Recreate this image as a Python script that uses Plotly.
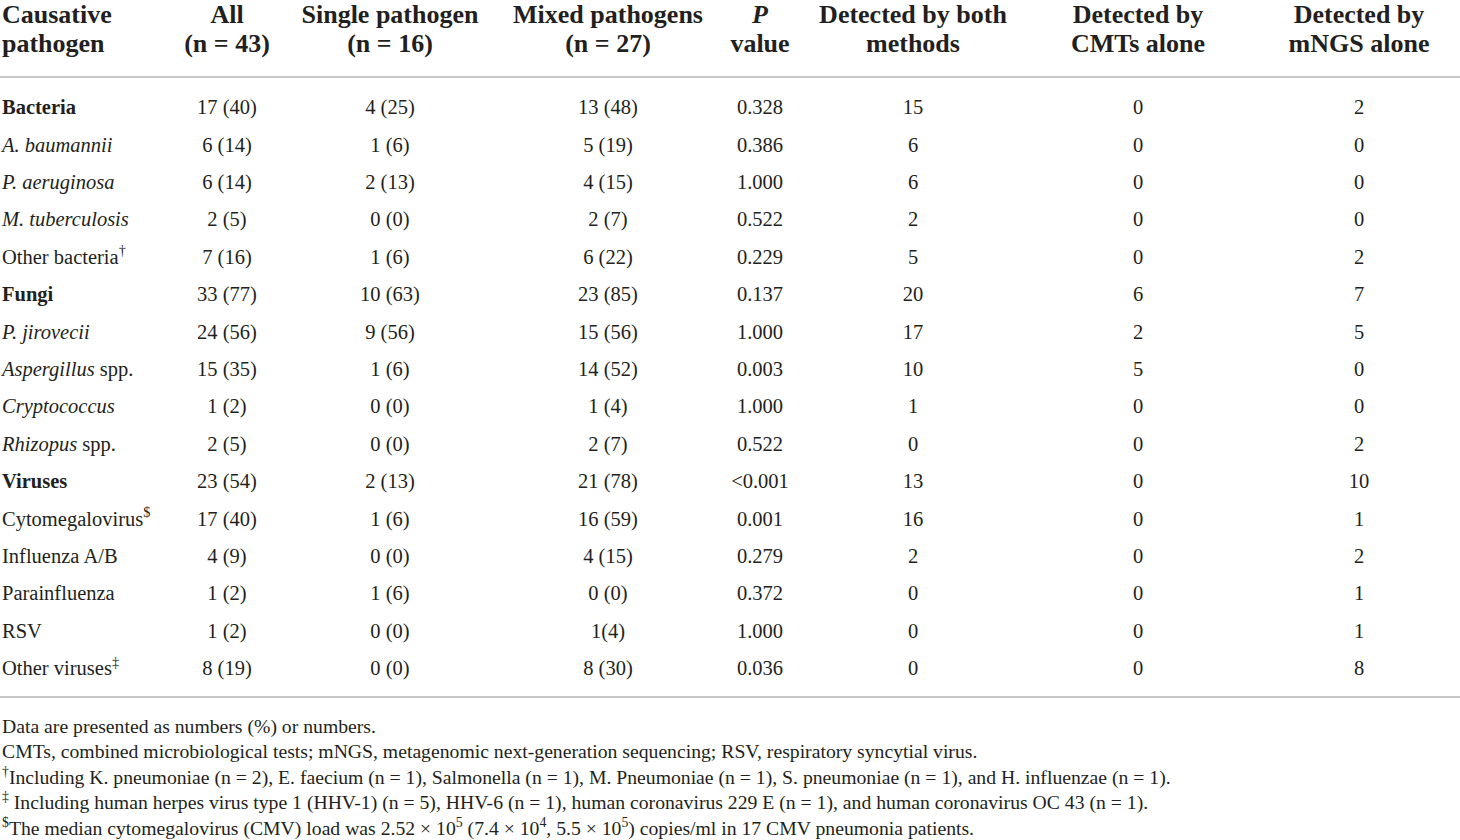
import plotly.graph_objects as go

# table data
pathogens = ["Bacteria", "A. baumannii", "P. aeruginosa", "M. tuberculosis", "Other bacteria",
             "Fungi", "P. jirovecii", "Aspergillus spp.", "Cryptococcus", "Rhizopus spp.",
             "Viruses", "Cytomegalovirus", "Influenza A/B", "Parainfluenza", "RSV", "Other viruses"]
all_cases = ["17 (40)", "6 (14)", "6 (14)", "2 (5)", "7 (16)", "33 (77)", "24 (56)", "15 (35)",
             "1 (2)", "2 (5)", "23 (54)", "17 (40)", "4 (9)", "1 (2)", "1 (2)", "8 (19)"]
single = ["4 (25)", "1 (6)", "2 (13)", "0 (0)", "1 (6)", "10 (63)", "9 (56)", "1 (6)",
          "0 (0)", "0 (0)", "2 (13)", "1 (6)", "0 (0)", "1 (6)", "0 (0)", "0 (0)"]
mixed = ["13 (48)", "5 (19)", "4 (15)", "2 (7)", "6 (22)", "23 (85)", "15 (56)", "14 (52)",
         "1 (4)", "2 (7)", "21 (78)", "16 (59)", "4 (15)", "0 (0)", "1(4)", "8 (30)"]
p_values = ["0.328", "0.386", "1.000", "0.522", "0.229", "0.137", "1.000", "0.003",
            "1.000", "0.522", "<0.001", "0.001", "0.279", "0.372", "1.000", "0.036"]
both = [15, 6, 6, 2, 5, 20, 17, 10, 1, 0, 13, 16, 2, 0, 0, 0]
cmts_only = [0, 0, 0, 0, 0, 6, 2, 5, 0, 0, 0, 0, 0, 0, 0, 0]
mngs_only = [2, 0, 0, 0, 2, 7, 5, 0, 0, 2, 10, 1, 2, 1, 1, 8]

headers_1 = ["Causative", "All", "Single pathogen", "Mixed pathogens", "<i>P</i>",
             "Detected by both", "Detected by", "Detected by"]
headers_2 = ["pathogen", "(n = 43)", "(n = 16)", "(n = 27)", "value",
             "methods", "CMTs alone", "mNGS alone"]

groups = ["Bacteria", "Fungi", "Viruses"]
italic_names = ["A. baumannii", "P. aeruginosa", "M. tuberculosis", "P. jirovecii",
                "Aspergillus", "Cryptococcus", "Rhizopus"]
marks = {"Other bacteria": "†", "Cytomegalovirus": "$", "Other viruses": "‡"}

notes = [
    "Data are presented as numbers (%) or numbers.",
    "CMTs, combined microbiological tests; mNGS, metagenomic next-generation sequencing; RSV, respiratory syncytial virus.",
    "<sup>†</sup>Including K. pneumoniae (n = 2), E. faecium (n = 1), Salmonella (n = 1), M. Pneumoniae (n = 1), S. pneumoniae (n = 1), and H. influenzae (n = 1).",
    "<sup>‡</sup> Including human herpes virus type 1 (HHV-1) (n = 5), HHV-6 (n = 1), human coronavirus 229 E (n = 1), and human coronavirus OC 43 (n = 1).",
    "<sup>$</sup>The median cytomegalovirus (CMV) load was 2.52 × 10<sup>5</sup> (7.4 × 10<sup>4</sup>, 5.5 × 10<sup>5</sup>) copies/ml in 17 CMV pneumonia patients.",
]


def label(name):
    if name in groups:
        return "<b>" + name + "</b>"
    out = name
    for it in italic_names:
        if name.startswith(it):
            out = "<i>" + it + "</i>" + name[len(it):]
            break
    if name in marks:
        out = out + "<sup>" + marks[name] + "</sup>"
    return out


def esc(s):
    return str(s).replace("<", "&lt;")


# layout (pixels)
W, H = 1460, 840
col_x = [2, 227, 390, 608, 760, 913, 1138, 1359]
row_y = [109 + i * 37.4 for i in range(len(pathogens))]
head_y = [16, 45]
rule_y = [77, 697]
note_y = [728, 753.5, 779, 804.5, 830]

ink = "#231f20"
body_font = dict(family="Liberation Serif", size=20.5, color=ink)
head_font = dict(family="Liberation Serif", size=26, color=ink)
note_font = dict(family="Liberation Serif", size=19.7, color=ink)

columns = [[label(p) for p in pathogens], all_cases, single, mixed,
           [esc(p) for p in p_values], both, cmts_only, mngs_only]

fig = go.Figure()

for j, col in enumerate(columns):
    pos = "middle right" if j == 0 else "middle center"
    fig.add_trace(go.Scatter(
        x=[col_x[j]] * len(col), y=row_y, text=[str(v) for v in col],
        mode="text", textposition=pos, textfont=body_font, cliponaxis=False,
        hoverinfo="skip", showlegend=False))
    for k, hdr in enumerate([headers_1, headers_2]):
        fig.add_trace(go.Scatter(
            x=[col_x[j]], y=[head_y[k]], text=["<b>" + hdr[j] + "</b>"],
            mode="text", textposition=pos, textfont=head_font, cliponaxis=False,
            hoverinfo="skip", showlegend=False))

fig.add_trace(go.Scatter(
    x=[2] * len(notes), y=note_y, text=notes, mode="text",
    textposition="middle right", textfont=note_font, cliponaxis=False,
    hoverinfo="skip", showlegend=False))

for y in rule_y:
    fig.add_shape(type="line", x0=0, x1=W, y0=y, y1=y,
                  line=dict(color="#b4b4b4", width=1.5))

fig.update_xaxes(range=[0, W], visible=False, fixedrange=True)
fig.update_yaxes(range=[H, 0], visible=False, fixedrange=True)
fig.update_layout(width=W, height=H, margin=dict(l=0, r=0, t=0, b=0),
                  plot_bgcolor="white", paper_bgcolor="white")

# drop the page's default body margin so the table sits at the top-left corner
fig.write_html("out.html", config={"displayModeBar": False},
               post_script="document.body.style.margin='0';")
